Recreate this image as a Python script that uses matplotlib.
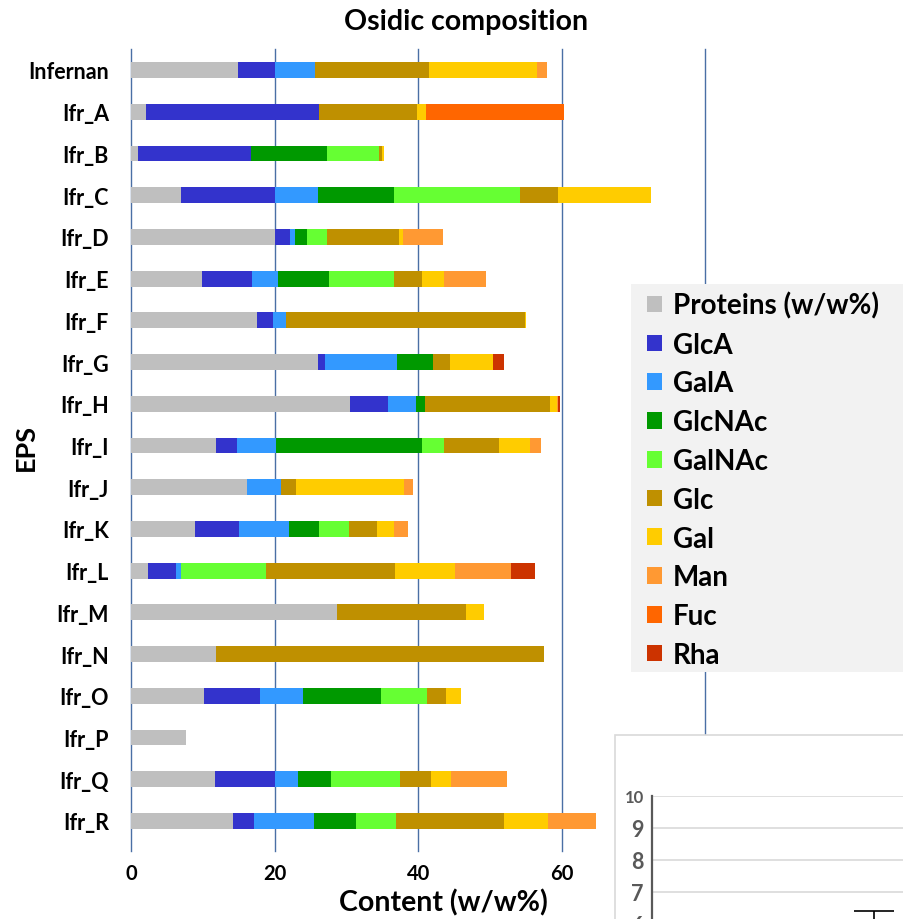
import matplotlib
matplotlib.use("Agg")
import matplotlib.pyplot as plt
import numpy as np
from matplotlib.patches import Rectangle, Patch

categories = ["Infernan", "Ifr_A", "Ifr_B", "Ifr_C", "Ifr_D", "Ifr_E", "Ifr_F", "Ifr_G",
              "Ifr_H", "Ifr_I", "Ifr_J", "Ifr_K", "Ifr_L", "Ifr_M", "Ifr_N", "Ifr_O",
              "Ifr_P", "Ifr_Q", "Ifr_R"]

proteins = [14.9, 2.1, 1.0, 7.0, 20.0, 9.9, 17.5, 26.0, 30.5, 11.9, 16.2, 8.9, 2.4, 28.7, 11.9, 10.1, 7.6, 11.7, 14.2]
glca     = [5.1, 24.1, 15.7, 13.0, 2.2, 7.0, 2.3, 1.0, 5.3, 2.8, 0, 6.1, 3.9, 0, 0, 7.8, 0, 8.3, 2.9]
gala     = [5.6, 0, 0, 6.1, 0.6, 3.6, 1.8, 10.0, 3.9, 5.5, 4.7, 7.0, 0.7, 0, 0, 6.0, 0, 3.2, 8.4]
glcnac   = [0, 0, 10.6, 10.5, 1.7, 7.1, 0, 5.1, 1.3, 20.3, 0, 4.2, 0, 0, 0, 10.9, 0, 4.7, 5.8]
galnac   = [0, 0, 7.3, 17.6, 2.8, 9.0, 0, 0, 0, 3.1, 0, 4.2, 11.8, 0, 0, 6.4, 0, 9.6, 5.6]
glc      = [15.9, 13.6, 0.3, 5.3, 10.0, 3.9, 33.3, 2.3, 17.4, 7.7, 2.1, 3.9, 18.0, 18.0, 45.6, 2.6, 0, 4.3, 15.1]
gal      = [15.0, 1.3, 0.4, 12.9, 0.6, 3.1, 0.1, 6.0, 0.9, 4.2, 15.0, 2.3, 8.3, 2.4, 0, 2.1, 0, 2.8, 6.1]
man      = [1.4, 0, 0, 0, 5.6, 5.8, 0, 0, 0.2, 1.6, 1.2, 2.0, 7.8, 0, 0, 0, 0, 7.7, 6.7]
fuc      = [0, 19.2, 0, 0, 0, 0, 0, 0, 0, 0, 0, 0, 0, 0, 0, 0, 0, 0, 0]
rha      = [0, 0, 0, 0, 0, 0, 0, 1.6, 0.2, 0, 0, 0, 3.3, 0, 0, 0, 0, 0, 0]

series_names = ["Proteins (w/w%)", "GlcA", "GalA", "GlcNAc", "GalNAc", "Glc", "Gal", "Man", "Fuc", "Rha"]
series_values = [proteins, glca, gala, glcnac, galnac, glc, gal, man, fuc, rha]
colors = ["#bfbfbf", "#3333cc", "#3399ff", "#009900", "#66ff33", "#bf9000", "#ffcc00", "#ff9933", "#ff6600", "#cc3300"]

x_ticks = [0, 20, 40, 60, 80]
x_ticklabels = ["0", "20", "40", "60", ""]

inset_ticks = [6, 7, 8, 9, 10]
inset_errbar_value = [6.0]
inset_errbar_err = [0.41]

FONT = "Lato"
W, H = 904, 920
fig = plt.figure(figsize=(W / 100, H / 100), dpi=100)

def fx(px):
    return px / W

def fy(py):
    return 1 - py / H

# main axes
left, right, top, bottom = 131, 705.5, 50, 852
ax = fig.add_axes([fx(left), fy(bottom), (right - left) / W, (bottom - top) / H])
y = np.arange(len(categories))
cum = np.zeros(len(categories))
for name, vals, col in zip(series_names, series_values, colors):
    v = np.array(vals, dtype=float)
    ax.barh(y, v, left=cum, height=0.38, color=col, label=name, zorder=2)
    cum += v

ax.set_xlim(0, 80)
ax.set_ylim(18.72, -0.503)
ax.set_xticks(x_ticks)
ax.set_xticklabels(x_ticklabels)
ax.set_yticks(y)
ax.set_yticklabels(categories)
for s in ax.spines.values():
    s.set_visible(False)
ax.grid(axis="x", color="#4a6fa5", linewidth=1.0, zorder=0)
for gl in ax.get_xgridlines():
    gl.set_clip_on(False)
ax.set_axisbelow(True)
ax.tick_params(axis="y", length=0, pad=16)
ax.tick_params(axis="x", length=0, pad=9)
for lab in ax.get_yticklabels():
    lab.set_fontfamily(FONT); lab.set_fontweight("bold"); lab.set_fontsize(15.5)
for lab in ax.get_xticklabels():
    lab.set_fontfamily(FONT); lab.set_fontweight("bold"); lab.set_fontsize(14.5)

ax.set_xlabel("Content (w/w%)", fontfamily=FONT, fontweight="bold", fontsize=20.5)
ax.xaxis.set_label_coords((443 - left) / (right - left), (bottom - 903) / (bottom - top))
ax.xaxis.label.set_va("center")
ax.set_ylabel("EPS", fontfamily=FONT, fontweight="bold", fontsize=19.5)
ax.yaxis.set_label_coords((26 - left) / (right - left), (bottom - 448) / (bottom - top))
ax.yaxis.label.set_va("center")

fig.text(fx(466), fy(22), "Osidic composition", ha="center", va="center",
         fontfamily=FONT, fontweight="bold", fontsize=20.5)

# legend panel
fig.add_artist(Rectangle((fx(631), fy(673)), fx(904) - fx(631) + 0.01, (673 - 285) / H,
                         transform=fig.transFigure, facecolor="#f2f2f2", edgecolor="none", zorder=3))
handles = [Patch(facecolor=c, edgecolor="none") for c in colors]
leg = fig.legend(handles, series_names, loc="upper left", bbox_to_anchor=(fx(644), fy(290)),
                 frameon=False, handlelength=0.55, handleheight=0.55, handletextpad=0.4,
                 labelspacing=0.46, borderaxespad=0, borderpad=0.1,
                 prop={"family": FONT, "weight": "bold", "size": 20})
leg.set_zorder(5)

# inset panel (partially visible second chart)
fig.add_artist(Rectangle((fx(615), fy(940)), fx(920) - fx(615), (940 - 736) / H,
                         transform=fig.transFigure, facecolor="white", edgecolor="#d9d9d9",
                         linewidth=1.2, zorder=6))
ins_top, ins_bot, ins_left = 797, 960, 652
ppu = 32.0
iax = fig.add_axes([fx(ins_left), fy(ins_bot), fx(930) - fx(ins_left), (ins_bot - ins_top) / H])
iax.set_zorder(7)
iax.patch.set_alpha(0)
iax.set_ylim(10 - (ins_bot - ins_top) / ppu, 10)
iax.set_xlim(0, 1)
iax.set_yticks(inset_ticks)
iax.set_yticklabels([str(t) for t in inset_ticks])
iax.set_xticks([])
for k in ["top", "right", "bottom"]:
    iax.spines[k].set_visible(False)
iax.spines["left"].set_color("#595959")
iax.spines["left"].set_linewidth(1.6)
iax.grid(axis="y", color="#d9d9d9", linewidth=1.2)
iax.tick_params(axis="y", length=0, pad=6, colors="#595959")
for lab in iax.get_yticklabels():
    lab.set_fontfamily(FONT); lab.set_fontweight("bold"); lab.set_fontsize(15.5)
iax.get_yticklabels()[-1].set_fontsize(12)
iax.errorbar([0.80], inset_errbar_value, yerr=inset_errbar_err, fmt="none",
             ecolor="black", elinewidth=1.2, capsize=14.5, capthick=1.2)

fig.savefig("out.png", dpi=100)
